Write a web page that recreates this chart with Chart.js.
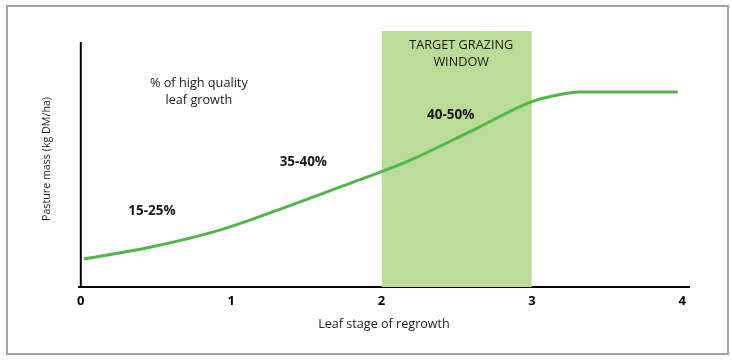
<!DOCTYPE html>
<html>
<head>
<meta charset="utf-8">
<script src="https://cdn.jsdelivr.net/npm/chart.js@4.4.1/dist/chart.umd.min.js"></script>
<style>
  html, body { margin: 0; padding: 0; background: #fff; }
  #wrap { position: relative; width: 732px; height: 360px; }
  #frame { position: absolute; left: 6px; top: 5px; width: 719px; height: 346px; border: 2px solid #a3a3a3; pointer-events: none; }
  canvas { position: absolute; left: 0; top: 0; }
</style>
</head>
<body>
<div id="wrap">
  <canvas id="c" width="732" height="360"></canvas>
  <div id="frame"></div>
</div>
<script>
// ---- data ----
const leafStage = [0.02, 0.46, 0.906, 1.345, 1.79, 2.17, 2.61, 3.0, 3.17, 3.32, 3.6, 3.97];
const pastureMass = [10.9, 15.5, 21.9, 30.8, 40.5, 49.0, 61.3, 72.4, 75.0, 76.2, 76.2, 76.2];
const xTicks = [0, 1, 2, 3, 4];
const xMin = -0.012;
const xMax = 4.045;
const yMax = 100;
const yAxisTop = 95.7;
const windowStart = 2;
const windowEnd = 3;
const windowTop = 100;
const windowLabel = ["TARGET GRAZING", "WINDOW"];
const windowLabelPos = [2.53, 94.2, 87.8];
const qualityNote = ["% of high quality", "leaf growth"];
const qualityNotePos = [0.785, 79.7, 73.0];
const bandLabels = ["15-25%", "35-40%", "40-50%"];
const bandLabelX = [0.473, 1.48, 2.46];
const bandLabelY = [29.7, 48.6, 67.2];
const xTitle = "Leaf stage of regrowth";
const yTitle = "Pasture mass (kg DM/ha)";

const FONT = "'Open Sans', sans-serif";

const curve = leafStage.map((x, i) => ({ x: x, y: pastureMass[i] }));

const annotations = {
  id: 'annotations',
  afterDatasetsDraw(chart) {
    const ctx = chart.ctx;
    const xs = chart.scales.x, ys = chart.scales.y;
    ctx.save();
    ctx.textAlign = 'center';
    ctx.textBaseline = 'middle';
    ctx.fillStyle = '#1a1a1a';
    ctx.font = "12.7px " + FONT;
    windowLabel.forEach((t, i) => {
      ctx.fillText(t, xs.getPixelForValue(windowLabelPos[0]), ys.getPixelForValue(windowLabelPos[1 + i]));
    });
    qualityNote.forEach((t, i) => {
      ctx.fillText(t, xs.getPixelForValue(qualityNotePos[0]), ys.getPixelForValue(qualityNotePos[1 + i]));
    });
    ctx.font = "bold 13.5px " + FONT;
    bandLabels.forEach((t, i) => {
      ctx.fillText(t, xs.getPixelForValue(bandLabelX[i]), ys.getPixelForValue(bandLabelY[i]));
    });
    ctx.restore();
  }
};

new Chart(document.getElementById('c'), {
  type: 'line',
  data: {
    datasets: [
      {
        label: 'Pasture mass',
        data: curve,
        borderColor: '#52b646',
        borderWidth: 3,
        pointRadius: 0,
        cubicInterpolationMode: 'monotone',
        fill: false,
        clip: false
      },
      {
        label: 'y axis',
        data: [{ x: 0, y: 0 }, { x: 0, y: yAxisTop }],
        borderColor: '#000',
        borderWidth: 2,
        pointRadius: 0,
        fill: false,
        clip: false
      },
      {
        label: 'Target grazing window',
        data: [{ x: windowStart, y: windowTop }, { x: windowEnd, y: windowTop }],
        borderWidth: 0,
        borderColor: 'rgba(0,0,0,0)',
        backgroundColor: '#bbdc99',
        pointRadius: 0,
        tension: 0,
        fill: 'origin'
      }
    ]
  },
  options: {
    responsive: false,
    animation: false,
    devicePixelRatio: 1,
    layout: { padding: { left: 0, right: 43, top: 31, bottom: 0 } },
    plugins: { legend: { display: false }, tooltip: { enabled: false } },
    scales: {
      x: {
        type: 'linear',
        min: xMin,
        max: xMax,
        afterBuildTicks(scale) { scale.ticks = xTicks.map(v => ({ value: v })); },
        afterFit(scale) { scale.height = 73; },
        grid: { display: false, drawTicks: false },
        border: { display: true, color: '#000', width: 2 },
        ticks: {
          padding: 6,
          color: '#000',
          font: { family: FONT, size: 13, weight: 'bold' },
          callback: v => String(v)
        },
        title: {
          display: true,
          text: xTitle,
          color: '#1a1a1a',
          font: { family: FONT, size: 12.6 },
          padding: { top: 0, bottom: 28 }
        }
      },
      y: {
        type: 'linear',
        min: 0,
        max: yMax,
        afterFit(scale) { scale.width = 79; },
        grid: { display: false, drawTicks: false },
        border: { display: false },
        ticks: { display: false },
        title: {
          display: true,
          text: yTitle,
          color: '#1a1a1a',
          font: { family: FONT, size: 10.7 },
          padding: { top: 41, bottom: 0 }
        }
      }
    }
  },
  plugins: [annotations]
});
</script>
</body>
</html>
